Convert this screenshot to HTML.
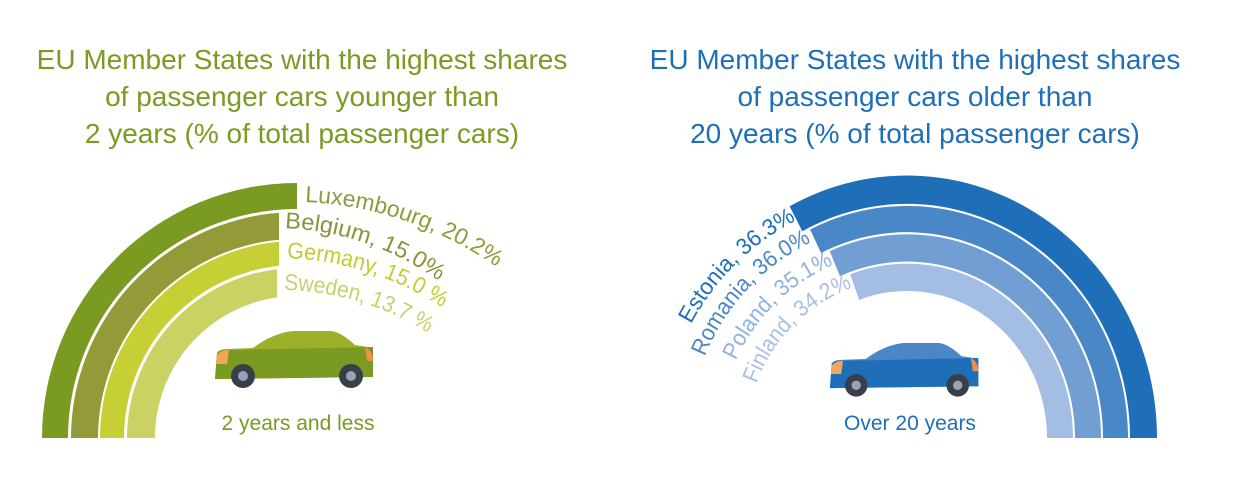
<!DOCTYPE html>
<html><head><meta charset="utf-8"><style>
html,body{margin:0;padding:0;background:#fff;}
svg{display:block;font-family:"Liberation Sans",sans-serif;}
</style></head><body>
<svg width="1253" height="491" viewBox="0 0 1253 491" xmlns="http://www.w3.org/2000/svg">
<defs>
<path id="lp1" d="M305,202 A360,360 0 0 1 545,308"/>
<path id="lp2" d="M285,228.2 A280,280 0 0 1 505,348.3"/>
<path id="lp3" d="M287,258.2 A300,300 0 0 1 517,378"/>
<path id="lp4" d="M284,290 A280,280 0 0 1 509,410.3"/>
<path id="rp1" d="M677.7,354.5 A244,244 0 0 1 796.2,220.6"/>
<path id="rp2" d="M696.4,381.6 A218,218 0 0 1 811.4,242.1"/>
<path id="rp3" d="M725.4,389.3 A188,188 0 0 1 833.5,264.9"/>
<path id="rp4" d="M749.4,410.2 A160,160 0 0 1 852.3,287.7"/>
<g id="car">
  <path d="M2,48 L4,22 Q6,18 14,18 L40,17 Q60,2 80,0 L118,0 Q128,1 142,14 L155,16 Q160,20 160,30 L160,46 Z" fill="var(--top)"/>
  <path d="M2,48 L4,22 Q6,19 14,19 L160,16 L160,46 Z" fill="var(--bot)"/>
  <path d="M4,24 Q8,19 16,19 L14,33 L3,33 Z" fill="#f2a65a"/>
  <path d="M152,16 Q160,20 160,30 L154,30 Z" fill="#ef8f4b"/>
  <circle cx="30" cy="45" r="12" fill="#3a3e4a"/><circle cx="30" cy="45" r="5" fill="#9aa3b5"/>
  <circle cx="138" cy="45" r="12" fill="#3a3e4a"/><circle cx="138" cy="45" r="5" fill="#9aa3b5"/>
</g>
</defs>

<g font-size="28" text-anchor="middle" fill="#7b9a22">
<text x="302" y="69">EU Member States with the highest shares</text>
<text x="302" y="106">of passenger cars younger than</text>
<text x="302" y="143">2 years (% of total passenger cars)</text>
</g>
<g font-size="28" text-anchor="middle" fill="#1f6fb8">
<text x="915" y="69">EU Member States with the highest shares</text>
<text x="915" y="106">of passenger cars older than</text>
<text x="915" y="143">20 years (% of total passenger cars)</text>
</g>

<path d="M42,438 A255,255 0 0 1 297,183 L297,209 A229,229 0 0 0 68,438 Z" fill="#7a9a22"/>
<path d="M71,438 A226,226 0 0 1 279,212.7 L279,239.8 A199,199 0 0 0 98,438 Z" fill="#939a38"/>
<path d="M100,438 A197,197 0 0 1 279,241.8 L279,265.9 A173,173 0 0 0 124,438 Z" fill="#c6cf33"/>
<path d="M127,438 A170,170 0 0 1 277,269.2 L277,297.4 A142,142 0 0 0 155,438 Z" fill="#c9d262"/>

<g font-size="23">
<text fill="#8f9a3a"><textPath href="#lp1" textLength="205" lengthAdjust="spacingAndGlyphs">Luxembourg, 20.2%</textPath></text>
<text fill="#8a923a"><textPath href="#lp2" textLength="165" lengthAdjust="spacingAndGlyphs">Belgium, 15.0%</textPath></text>
<text fill="#c3cc2f"><textPath href="#lp3" textLength="165" lengthAdjust="spacingAndGlyphs">Germany, 15.0 %</textPath></text>
<text fill="#c7d06a"><textPath href="#lp4" textLength="152" lengthAdjust="spacingAndGlyphs">Sweden, 13.7 %</textPath></text>
</g>

<g transform="translate(907,438) scale(1,1.05)">
<path d="M-117.4,-220.7 A250,250 0 0 1 250,0 L223,0 A223,223 0 0 0 -104.7,-196.9 Z" fill="#1f6fb8"/>
<path d="M-96.9,-198.6 A221,221 0 0 1 221,0 L196,0 A196,196 0 0 0 -85.9,-176.2 Z" fill="#4a87c7"/>
<path d="M-77.3,-177.9 A194,194 0 0 1 194,0 L168,0 A168,168 0 0 0 -67,-154.1 Z" fill="#729fd3"/>
<path d="M-56.8,-156 A166,166 0 0 1 166,0 L140,0 A140,140 0 0 0 -47.9,-131.6 Z" fill="#a4bde2"/>
</g>

<g font-size="23" text-anchor="end">
<text fill="#1f6fb8"><textPath href="#rp1" startOffset="100%" textLength="150" lengthAdjust="spacingAndGlyphs">Estonia, 36.3%</textPath></text>
<text fill="#4a87c7"><textPath href="#rp2" startOffset="100%" textLength="160" lengthAdjust="spacingAndGlyphs">Romania, 36.0%</textPath></text>
<text fill="#8fb2de"><textPath href="#rp3" startOffset="100%" textLength="140" lengthAdjust="spacingAndGlyphs">Poland, 35.1%</textPath></text>
<text fill="#a9c0e3"><textPath href="#rp4" startOffset="100%" textLength="140" lengthAdjust="spacingAndGlyphs">Finland, 34.2%</textPath></text>
</g>

<use href="#car" transform="translate(213,331)" style="--top:#9cb02a;--bot:#7a9a22"/>
<use href="#car" transform="translate(828,343) scale(0.94)" style="--top:#4a87c7;--bot:#1f6fb8"/>

<text x="298" y="430" font-size="21" text-anchor="middle" fill="#7a9a22">2 years and less</text>
<text x="910" y="430" font-size="21" text-anchor="middle" fill="#1f6fb8">Over 20 years</text>
</svg>
</body></html>
